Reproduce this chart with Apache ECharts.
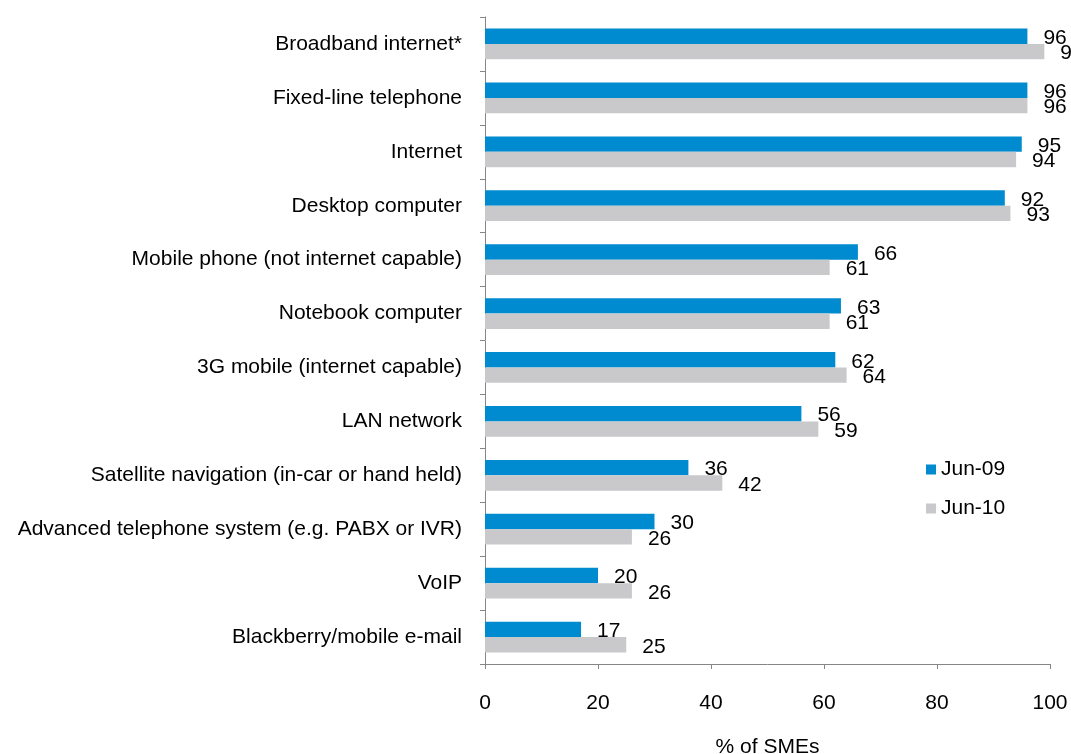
<!DOCTYPE html>
<html>
<head>
<meta charset="utf-8">
<script src="https://cdn.jsdelivr.net/npm/echarts@6/dist/echarts.min.js"></script>
<style>
html,body{margin:0;padding:0;background:#fff;}
#chart{width:1071px;height:754px;}
</style>
</head>
<body>
<div id="chart"></div>
<script>
const categories = [
  "Broadband internet*",
  "Fixed-line telephone",
  "Internet",
  "Desktop computer",
  "Mobile phone (not internet capable)",
  "Notebook computer",
  "3G mobile (internet capable)",
  "LAN network",
  "Satellite navigation (in-car or hand held)",
  "Advanced telephone system (e.g. PABX or IVR)",
  "VoIP",
  "Blackberry/mobile e-mail"
];
const jun09 = [96, 96, 95, 92, 66, 63, 62, 56, 36, 30, 20, 17];
const jun10 = [99, 96, 94, 93, 61, 61, 64, 59, 42, 26, 26, 25];
const seriesNames = ["Jun-09", "Jun-10"];
const xTicks = { min: 0, max: 100, interval: 20 };
const axisTitle = "% of SMEs";

const FONT = "'Liberation Sans', Arial, sans-serif";
const chart = echarts.init(document.getElementById('chart'), null, {renderer: 'canvas'});
const labelStyle = {
  show: true, position: 'right', distance: 16, offset: [0, 2],
  color: '#000', fontFamily: FONT, fontSize: 21
};
chart.setOption({
  animation: false,
  backgroundColor: '#fff',
  textStyle: { fontFamily: FONT },
  grid: { left: 485, right: 21, top: 17, bottom: 90, containLabel: false, outerBoundsMode: 'none' },
  legend: {
    orient: 'vertical', left: 921, top: 454,
    itemWidth: 10, itemHeight: 10, itemGap: 18,
    icon: 'rect',
    textStyle: { fontFamily: FONT, fontSize: 21, color: '#000', padding: [0,0,0,0] },
    data: seriesNames
  },
  xAxis: {
    type: 'value', min: xTicks.min, max: xTicks.max, interval: xTicks.interval,
    name: axisTitle, nameLocation: 'middle', nameGap: 73,
    nameTextStyle: { fontFamily: FONT, fontSize: 21, color: '#000' },
    axisLine: { show: true, lineStyle: { color: '#868686', width: 1 } },
    axisTick: { show: true, length: 5, lineStyle: { color: '#868686' } },
    splitLine: { show: false },
    axisLabel: { fontFamily: FONT, fontSize: 21, color: '#000', margin: 29 }
  },
  yAxis: {
    type: 'category', inverse: true, data: categories,
    axisLine: { show: true, lineStyle: { color: '#868686', width: 1 } },
    axisTick: { show: true, length: 5, lineStyle: { color: '#868686' } },
    axisLabel: { fontFamily: FONT, fontSize: 21, color: '#000', margin: 23 }
  },
  series: [
    {
      name: seriesNames[0], type: 'bar', data: jun09,
      barGap: '0%', barCategoryGap: '43%',
      itemStyle: { color: '#008ACF' },
      label: labelStyle
    },
    {
      name: seriesNames[1], type: 'bar', data: jun10,
      barGap: '0%', barCategoryGap: '43%',
      itemStyle: { color: '#C9C9CB' },
      label: labelStyle
    }
  ]
});
</script>
</body>
</html>
